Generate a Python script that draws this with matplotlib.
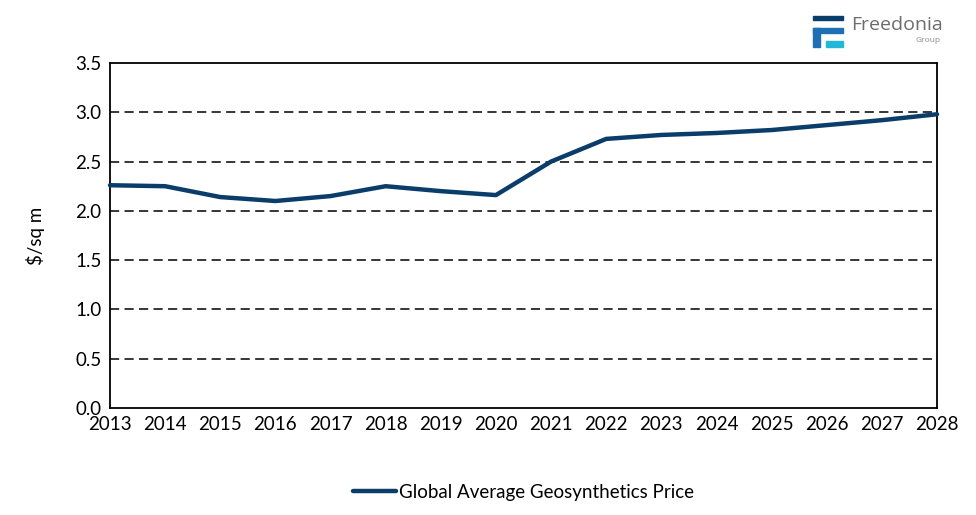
import matplotlib.pyplot as plt
from matplotlib.patches import Rectangle

years = [2013, 2014, 2015, 2016, 2017, 2018, 2019, 2020,
         2021, 2022, 2023, 2024, 2025, 2026, 2027, 2028]
price = [2.26, 2.25, 2.14, 2.10, 2.15, 2.25, 2.20, 2.16,
         2.50, 2.73, 2.77, 2.79, 2.82, 2.87, 2.92, 2.98]
y_ticks = [0.0, 0.5, 1.0, 1.5, 2.0, 2.5, 3.0, 3.5]

plt.rcParams['font.family'] = ['Lato', 'DejaVu Sans']

fig = plt.figure(figsize=(9.76, 5.15), dpi=100)
ax = fig.add_axes([110 / 976, 107 / 515, 827 / 976, 345 / 515])

ax.plot(years, price, color='#0b3d6b', lw=3.2, solid_joinstyle='round',
        solid_capstyle='round', label='Global Average Geosynthetics Price',
        zorder=3, clip_on=False)

ax.set_xlim(years[0], years[-1])
ax.set_ylim(0, 3.5)
ax.set_xticks(years)
ax.set_yticks(y_ticks)
ax.set_yticklabels([f'{v:.1f}' for v in y_ticks])
ax.tick_params(length=0, labelsize=13.5, pad=6)
for s in ax.spines.values():
    s.set_color('black')
    s.set_linewidth(1.3)
for v in y_ticks[1:-1]:
    ax.axhline(v, color='black', lw=1.1, dashes=(6, 3.5), zorder=1)
ax.set_ylabel('$/sq m', fontsize=13.5, labelpad=22)

leg = ax.legend(loc='upper center', bbox_to_anchor=(0.5, -0.17), frameon=False,
                fontsize=13.5, handlelength=2.3, handletextpad=0.2)

# logo
def px(x, y, w, h, c):
    fig.patches.append(Rectangle((x / 976, 1 - (y + h) / 515), w / 976, h / 515,
                                 transform=fig.transFigure, color=c))

px(813, 16, 30, 4, '#0b3d6b')
px(813, 28, 30, 5, '#1f6fb5')
px(813, 28, 7, 19, '#1f6fb5')
px(826, 41, 17, 6, '#22b8d8')
fig.text(851 / 976, 1 - 25 / 515, 'Freedonia', fontsize=14, color='#6d6d6d',
         va='center', ha='left', family=['Open Sans', 'DejaVu Sans'])
fig.text(940 / 976, 1 - 41 / 515, 'Group', fontsize=6, color='#8a8a8a',
         va='center', ha='right', family=['Open Sans', 'DejaVu Sans'])

fig.savefig('out.png', dpi=100)
